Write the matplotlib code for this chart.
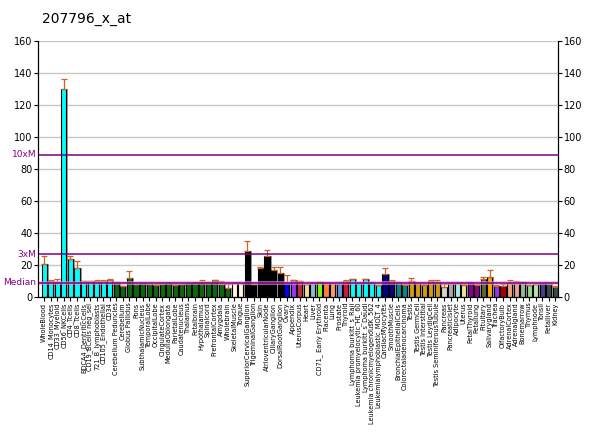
import numpy as np
import matplotlib
matplotlib.use("Agg")
import matplotlib.pyplot as plt

# --- data ---
etiquetas = ["WholeBlood", "CD14_Monocytes", "CD33_Myeloid", "CD56_NKCells", "CD4_Tcells",
             "CD8_Tcells", "BDCA4_DentriticCells", "CD19_BCells neg_sel", "721_B_lymphoblasts",
             "CD105_Endothelial", "CD34", "Cerebellum Peduncles", "Cerebellum", "Globus Pallidus",
             "Pons", "SubthalamicNucleus", "TemporalLobe", "OccipitalLobe", "CingulateCortex",
             "MedullaOblongata", "ParietalLobe", "Caudatenucleus", "Thalamus", "Fetalbrain",
             "Hypothalamus", "Spinalcord", "PrefrontalCortex", "Amygdala", "Wholebrain",
             "SkeletalMuscle", "Tongue", "SuperiorCervicalGanglion", "TrigeminalGanglion", "Skin",
             "AtrioventricularNode", "CiliaryGanglion", "DorsalRootGanglion", "Ovary", "Appendix",
             "UterusCorpus", "Heart", "Liver", "CD71_ Early Erythroid", "Placenta", "Lung",
             "Prostate", "Thyroid", "Lymphoma burkitt_s_Raji", "Leukemia promyelocytic_HL_60",
             "Lymphoma burkitt_s_Daudi", "Leukemia chronicmyelogenousK_562",
             "Leukemialymphoblastic_MOLT_4", "CardiacMyocytes", "SmoothMuscle",
             "BronchialEpithelialCells", "Colorectaladenocarcinoma", "Testis", "Testis GermCell",
             "Testis Interstitial", "Testis LeydigCell", "Testis SeminiferousTubule", "Pancreas",
             "PancreaticIslet", "Adipocyte", "Uterus", "FetalThyroid", "Fetallung", "Pituitary",
             "Salivarygland", "Trachea", "OlfactoryBulb", "AdrenalCortex", "Adrenalgland",
             "Bonemarrow", "Thymus", "Lymphnode", "Tonsil", "Fetalliver", "Kidney"]

valores = [20.6, 10.0, 9.2, 130.0, 23.5, 18.0, 10.0, 10.0, 10.2, 10.2, 10.6,
           9.0, 6.7, 11.9, 7.9, 8.5, 8.1, 7.5, 8.1, 8.5, 7.5, 7.9, 8.5, 9.0, 9.4,
           8.9, 10.5, 8.1, 5.6, 9.0, 9.0, 28.8, 7.9, 17.9, 25.6, 16.9, 15.2, 9.0,
           10.4, 9.8, 8.0, 8.5, 9.2, 8.5, 8.5, 8.1, 10.2, 11.2, 8.5, 11.2, 9.0, 7.5,
           14.6, 10.2, 9.0, 7.5, 9.8, 8.5, 7.5, 10.2, 9.4, 6.5, 8.5, 8.5, 7.5, 9.0,
           7.5, 11.2, 12.3, 6.9, 6.9, 8.5, 8.5, 9.4, 7.5, 7.9, 8.5, 7.9, 6.5]

errores = [4.8, 0.5, 1.8, 6.0, 2.3, 4.5, 0.3, 0.3, 0.5, 0.5, 0.5,
           0.3, 0.3, 4.1, 0.3, 0.3, 0.5, 0.6, 0.5, 0.3, 0.5, 0.3, 0.3, 0.3, 1.5,
           0.3, 0.3, 2.1, 2.3, 0.0, 0.0, 6.2, 0.3, 0.7, 3.8, 1.7, 3.4, 4.7,
           0.3, 0.3, 0.3, 0.3, 0.3, 0.3, 0.3, 1.5, 0.3, 0.3, 0.3, 0.3, 0.3, 0.3,
           3.7, 0.3, 0.3, 0.9, 2.3, 0.3, 0.9, 0.3, 1.0, 1.4, 0.3, 0.3, 0.9, 0.2,
           0.9, 1.2, 4.6, 0.3, 1.4, 2.1, 1.4, 0.2, 0.2, 0.2, 0.2, 0.6, 0.2]

colores = (["#00FFFF"] * 11 + ["#0A6A0A"] * 18 + ["#FFF5E1"] * 2 + ["#000000"] * 6 +
           ["#0000FF", "#9B30FF", "#C8283A", "#F5D5A0", "#88C0C8", "#7CFC00", "#FF8040",
            "#FF9966", "#6495ED", "#DC143C"] +
           ["#00FFFF"] * 5 + ["#000080"] * 2 + ["#008B8B"] * 2 + ["#D39B0F"] * 5 +
           ["#D3D3D3", "#A9A9A9", "#AAEEDD", "#F0E68C", "#8B008B", "#8B008B", "#556B2F",
            "#FFA500", "#9933EE", "#AA0000", "#F0A080", "#F0A080", "#8FBC8F", "#90D890",
            "#B0E8B0", "#483D8B", "#2F4F4F", "#2F4F4F"])

mediana = 8.9
lineas_ref = {"10xM": 89.0, "3xM": 26.7, "Median": mediana}
titulo = "207796_x_at"

# --- figure ---
fig = plt.figure(figsize=(6.0, 4.34), dpi=100)
ax = fig.add_axes([38 / 600, 1 - 297 / 434, (558 - 38) / 600, (297 - 41) / 434])

x = np.arange(len(valores))
ax.set_xlim(-0.95, len(valores) - 0.6)
ax.set_ylim(0, 160)

for yv in range(20, 161, 20):
    ax.axhline(yv, color="#C8C8C8", lw=1, zorder=0)

# sombra gris detras de cada barra
ax.bar(x + 0.3, valores, width=0.78, color="#9A9A9A", zorder=1, linewidth=0)
ax.bar(x, valores, width=0.78, color=colores, edgecolor="black", linewidth=0.8, zorder=2)
ax.errorbar(x, valores, yerr=[np.zeros(len(valores)), errores], fmt="none",
            ecolor="#C8642A", elinewidth=0.9, capsize=2, capthick=0.9, zorder=3)

for nombre, yv in lineas_ref.items():
    if nombre == "Median":
        ax.axhline(yv, color="#E0A0E0", lw=3, alpha=0.6, zorder=3)
    ax.axhline(yv, color="#800080", lw=1.1, zorder=4)
    ax.text(-0.003, yv, nombre, transform=ax.get_yaxis_transform(), ha="right",
            va="center", fontsize=6.5, color="#800080")

ax.set_xticks(x)
ax.set_xticklabels(etiquetas, rotation=90, fontsize=4.7, va="top")
ax.tick_params(axis="x", length=3, pad=1)
ax.set_yticks(range(0, 161, 20))
ax.tick_params(axis="y", labelsize=7, length=3, pad=1)

ax2 = ax.twinx()
ax2.set_ylim(0, 160)
ax2.set_yticks(range(0, 161, 20))
ax2.tick_params(axis="y", labelsize=7, length=3, pad=1)

for a in (ax, ax2):
    a.spines["top"].set_visible(False)

fig.text(42 / 600, 1 - 19 / 434, titulo, fontsize=10, ha="left", va="center")

fig.savefig("out.png", dpi=100)
